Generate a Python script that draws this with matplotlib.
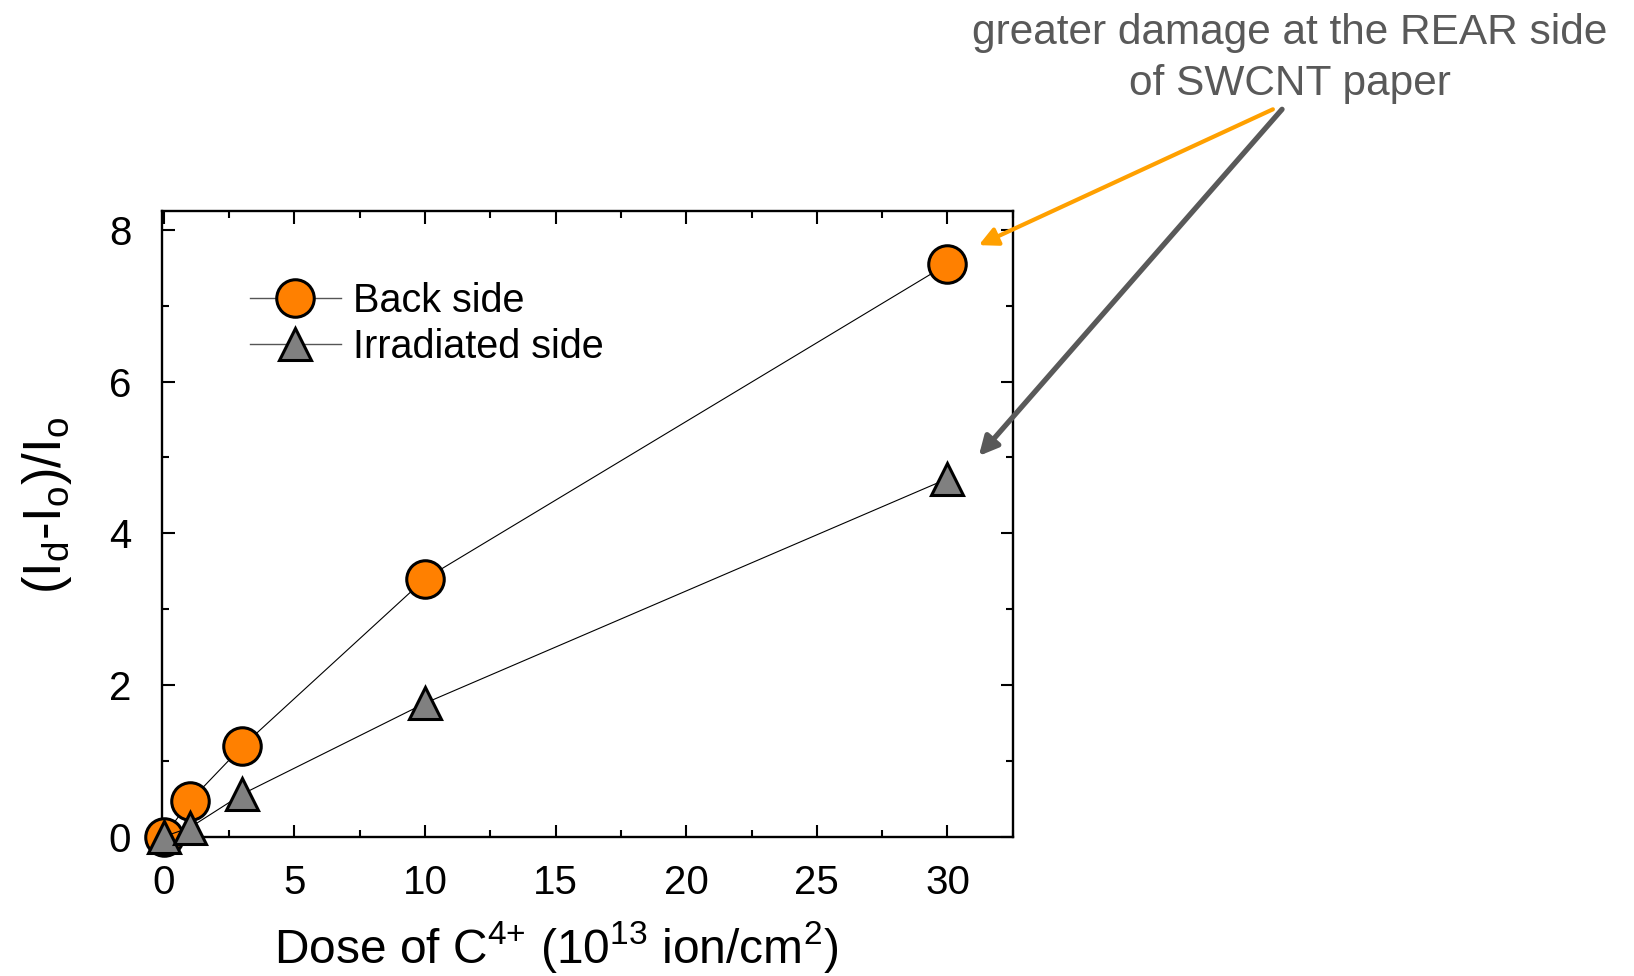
import numpy as np
import matplotlib
matplotlib.use("Agg")
import matplotlib.pyplot as plt
from matplotlib.ticker import MultipleLocator

plt.rcParams['font.family'] = ['Liberation Sans', 'DejaVu Sans']
plt.rcParams['mathtext.default'] = 'regular'

# dose (10^13 ion/cm2) and (Id-Io)/Io
dose = [0, 1, 3, 10, 30]
back_side = [0.0, 0.47, 1.19, 3.40, 7.55]
irradiated_side = [0.0, 0.12, 0.56, 1.76, 4.72]

labels = ["Back side", "Irradiated side"]
note = "greater damage at the REAR side\nof SWCNT paper"

fig = plt.figure(figsize=(16.34, 9.76), dpi=100)
ax = fig.add_axes([0.099, 0.1428, 0.5208, 0.641])

ax.plot(dose, back_side, '-', color='black', lw=0.8, marker='o', ms=27,
        mfc='#FF8000', mec='black', mew=2.2, label=labels[0], zorder=3, clip_on=False)
ax.plot(dose, irradiated_side, '-', color='black', lw=0.8, marker='^', ms=23,
        mfc='#808080', mec='black', mew=2.2, label=labels[1], zorder=4, clip_on=False)

ax.set_xlim(-0.08, 32.5)
ax.set_ylim(0, 8.25)
ax.xaxis.set_major_locator(MultipleLocator(5))
ax.xaxis.set_minor_locator(MultipleLocator(2.5))
ax.yaxis.set_major_locator(MultipleLocator(2))
ax.yaxis.set_minor_locator(MultipleLocator(1))
ax.tick_params(which='both', direction='in', top=True, right=True, width=1.5)
ax.tick_params(which='major', length=9, labelsize=29, pad=20)
ax.tick_params(which='minor', length=5)
ax.tick_params(axis='y', which='major', pad=22)
for s in ax.spines.values():
    s.set_linewidth(1.7)

ax.set_xlabel('Dose of C$^{4{+}}$ (10$^{13}$ ion/cm$^{2}$)', fontsize=34.5, labelpad=12)
ax.xaxis.label.set_x(0.463)
ax.set_ylabel('(I$_{d}$-I$_{o}$)/I$_{o}$', fontsize=38)
ax.yaxis.set_label_coords(-0.103, 0.53)

leg = ax.legend(loc='upper left', bbox_to_anchor=(0.085, 0.912), frameon=False,
                fontsize=28.5, handlelength=2.3, handletextpad=0.3, labelspacing=0.2,
                borderaxespad=0)
for h in leg.get_lines():
    h.set_color('#555555')
    h.set_linewidth(1.0)

fig.text(0.7895, 0.94, note, ha='center', va='center', color='#595959',
         fontsize=30.5, linespacing=1.33)

ax.annotate('', xy=(31.2, 7.8), xycoords='data', xytext=(0.779, 0.888),
            textcoords='figure fraction', annotation_clip=False,
            arrowprops=dict(arrowstyle='-|>', color='#FFA000', lw=3,
                            mutation_scale=28, shrinkA=0, shrinkB=0))
ax.annotate('', xy=(31.2, 5.02), xycoords='data', xytext=(0.7846, 0.888),
            textcoords='figure fraction', annotation_clip=False,
            arrowprops=dict(arrowstyle='-|>', color='#595959', lw=3.8,
                            mutation_scale=28, shrinkA=0, shrinkB=0))

fig.savefig('out.png', dpi=100)
